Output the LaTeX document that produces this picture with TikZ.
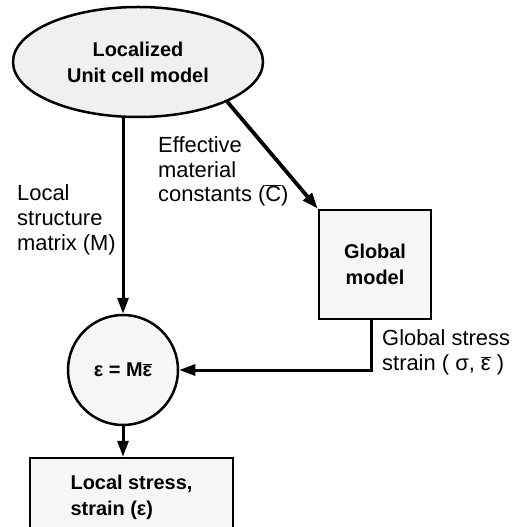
\documentclass[tikz,border=0pt]{standalone}
\usepackage{fontspec}
\setmainfont{Liberation Sans}
\usetikzlibrary{arrows.meta,shapes.geometric}
\newcommand{\ovl}[1]{\ensuremath{\overline{\hbox{#1}}}}
\begin{document}
\begin{tikzpicture}[x=1bp,y=-1bp,
  lbl/.style={font=\fontsize{22}{25}\selectfont, align=left, anchor=north west, inner sep=0pt},
  nodetext/.style={font=\fontsize{20}{26}\selectfont\bfseries},
  box/.style={draw, line width=2.5bp, fill=gray!7, nodetext, inner sep=0pt},
  arr/.style={line width=3bp, -{Triangle[length=16bp,width=11bp]}}]
\clip (0,0) rectangle (517,527);
\node[box, ellipse, minimum width=250bp, minimum height=110bp, align=center, fill=gray!12] (el) at (138,62) {Localized\\Unit cell model};
\node[box, circle, minimum size=110bp] (circ) at (123,370) {ε = M\ovl{ε}};
\node[box, rectangle, minimum width=112bp, minimum height=109bp, align=center] (gb) at (375,264.5) {Global\\model};
\node[box, rectangle, minimum width=203bp, minimum height=78bp, align=left] (bb) at (131.5,497) {Local stress,\\strain (ε)};
\node[lbl] (l1) at (17,183) {\strut Local\\structure\\matrix (M)};
\node[lbl] (l2) at (158,134.5) {\strut Effective\\material\\constants (\ovl{C})};
\node[lbl] (l3) at (382,327.5) {\strut Global stress\\strain ( σ, \ovl{ε} )};
\draw[arr] (el.south -| circ.north) -- (circ.north);
\draw[arr, line width=3.8bp] (el.-24) -- (gb.north west);
\draw[arr] ([xshift=-4bp]gb.south) |- (circ.east);
\draw[arr] (circ.south) -- (circ.south |- bb.north);
\end{tikzpicture}
\end{document}
